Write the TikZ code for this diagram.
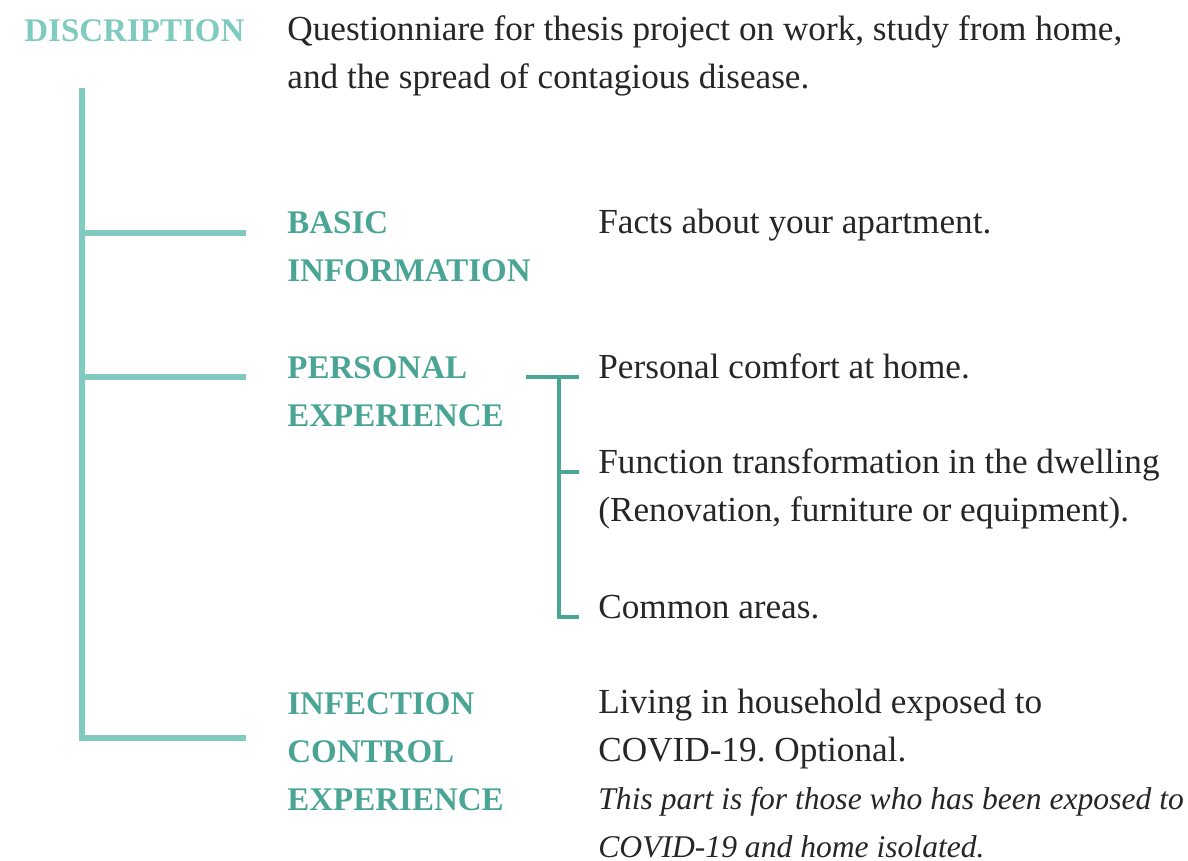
\documentclass[tikz,border=0pt]{standalone}
\usepackage{fontspec}
\setmainfont{Liberation Serif}
\frenchspacing
\definecolor{teallight}{HTML}{7FCBBF}
\definecolor{tealdark}{HTML}{4AA595}
\definecolor{textgray}{HTML}{262626}
\newcommand{\notefont}{\fontsize{15.8}{24}\selectfont\itshape}
\begin{document}
\begin{tikzpicture}[x=0.5pt,y=-0.5pt,
    heading/.style={font=\fontsize{16.5}{24}\selectfont\bfseries, text=tealdark, anchor=base west, inner sep=0pt, align=left},
    body/.style={font=\fontsize{17.6}{24}\selectfont, text=textgray, anchor=base west, inner sep=0pt, align=left},
    mainline/.style={draw=teallight, line width=3pt},
    subline/.style={draw=tealdark, line width=1.7pt}]
    \useasboundingbox (0,0) rectangle (1188,861);

    % title row (base anchor sits on the last line)
    \node[heading, text=teallight] (title) at (24,42) {DISCRIPTION};
    \node[body] (desc) at (287,89) {Questionniare for thesis project on work, study from home,\\and the spread of contagious disease.};

    % sections
    \node[heading] (basic) at (287,281) {BASIC\\INFORMATION};
    \node[heading] (personal) at (287,426) {PERSONAL\\EXPERIENCE};
    \node[heading] (infection) at (287,810) {INFECTION\\CONTROL\\EXPERIENCE};

    % details
    \node[body] (facts) at (598,234) {Facts about your apartment.};
    \node[body] (comfort) at (598,378) {Personal comfort at home.};
    \node[body] (function) at (598,521) {Function transformation in the dwelling\\(Renovation, furniture or equipment).};
    \node[body] (common) at (598,618) {Common areas.};
    \node[body] (living) at (598,857) {Living in household exposed to\\COVID-19. Optional.\\{\notefont This part is for those who has been exposed to}\\{\notefont COVID-19 and home isolated.}};

    % main tree
    \coordinate (top) at (82,88);
    \coordinate (corner) at (82,738);
    \coordinate (b1) at (246,233);
    \coordinate (b2) at (246,377);
    \coordinate (b3) at (246,738);
    \draw[mainline] (top) -- (corner) -- (b3);
    \draw[mainline] (82,233) -- (b1);
    \draw[mainline] (82,377) -- (b2);

    % sub tree
    \coordinate (s0) at (526,377);
    \coordinate (s1) at (579,377);
    \coordinate (s2) at (579,472);
    \coordinate (s3) at (579,617);
    \draw[subline] (s0) -- (s1);
    \draw[subline] (559,377) |- (s3);
    \draw[subline] (559,472) -- (s2);
\end{tikzpicture}
\end{document}
